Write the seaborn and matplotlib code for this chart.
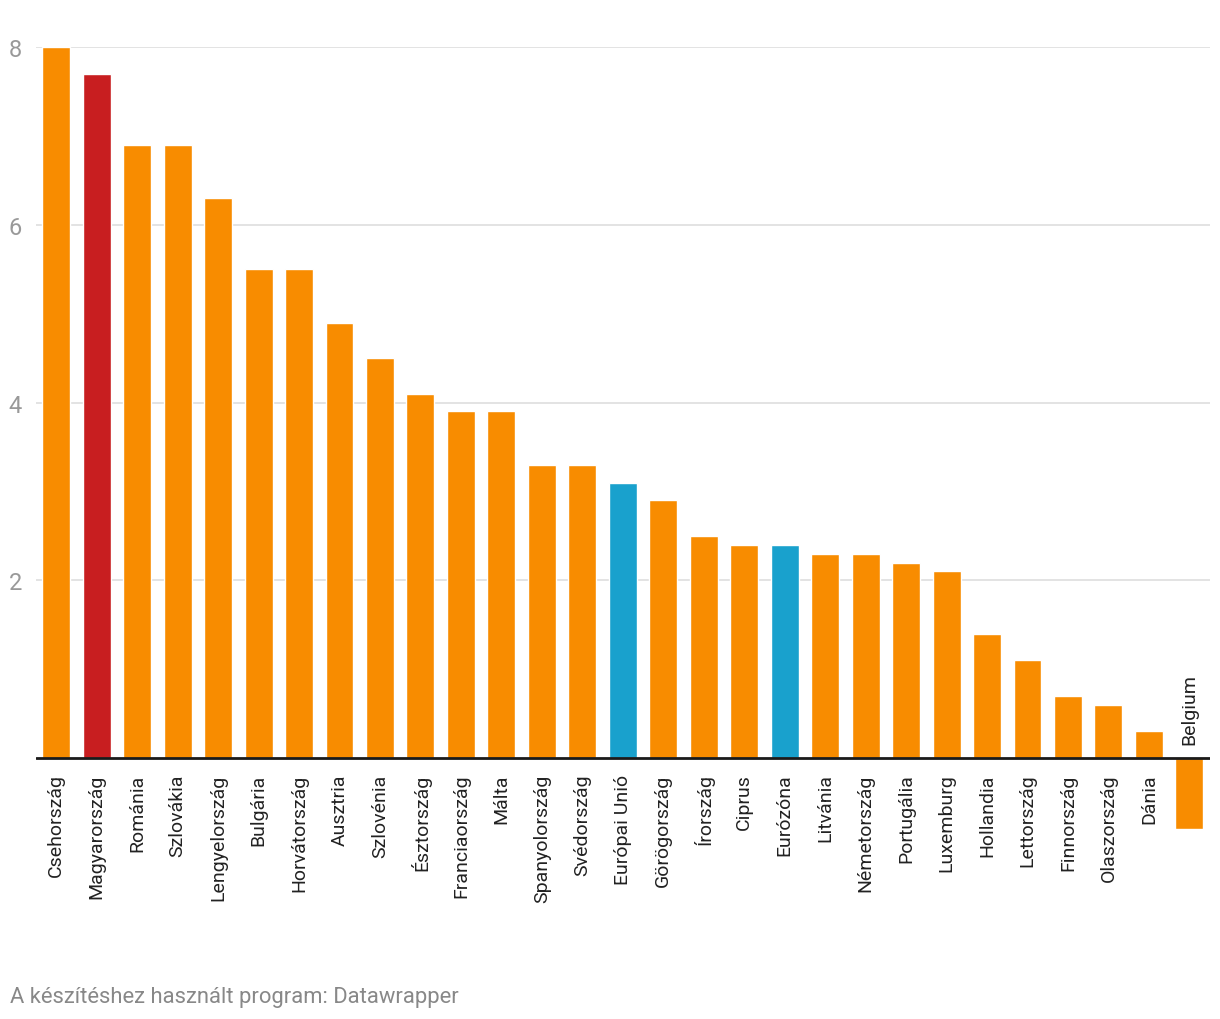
import numpy as np
import pandas as pd
import matplotlib
matplotlib.use("Agg")
import matplotlib.pyplot as plt
import seaborn as sns

orszagok = ['Csehország', 'Magyarország', 'Románia', 'Szlovákia', 'Lengyelország',
            'Bulgária', 'Horvátország', 'Ausztria', 'Szlovénia', 'Észtország',
            'Franciaország', 'Málta', 'Spanyolország', 'Svédország', 'Európai Unió',
            'Görögország', 'Írország', 'Ciprus', 'Eurózóna', 'Litvánia',
            'Németország', 'Portugália', 'Luxemburg', 'Hollandia', 'Lettország',
            'Finnország', 'Olaszország', 'Dánia', 'Belgium']
ertekek = [8.0, 7.7, 6.9, 6.9, 6.3, 5.5, 5.5, 4.9, 4.5, 4.1,
           3.9, 3.9, 3.3, 3.3, 3.1, 2.9, 2.5, 2.4, 2.4, 2.3,
           2.3, 2.2, 2.1, 1.4, 1.1, 0.7, 0.6, 0.3, -0.8]
csoport = ['egyeb'] * len(orszagok)
csoport[orszagok.index('Magyarország')] = 'hu'
csoport[orszagok.index('Európai Unió')] = 'atlag'
csoport[orszagok.index('Eurózóna')] = 'atlag'
y_ticks = [2, 4, 6, 8]

szinek = {'egyeb': '#F88C00', 'hu': '#C81E20', 'atlag': '#19A1CD'}

df = pd.DataFrame({'orszag': orszagok, 'ertek': ertekek, 'csoport': csoport})

sns.set_style("white")
plt.rcParams['font.family'] = ['Roboto', 'DejaVu Sans']

fig = plt.figure(figsize=(12.2, 10.2), dpi=100)
ax = fig.add_axes([0.0295, 0.186, 0.962, 0.767])

sns.barplot(data=df, x='orszag', y='ertek', hue='csoport', palette=szinek,
            dodge=False, width=0.69, saturation=1, legend=False, ax=ax, zorder=3)

ax.set_xlim(-0.5, len(orszagok) - 0.5)
ax.set_ylim(-0.8, 8)
ax.set_yticks(y_ticks)
ax.set_yticklabels([str(t) for t in y_ticks], color='#999999', fontsize=17)
ax.yaxis.grid(True, color='#e0e0e0', linewidth=1.3, zorder=0)
ax.axhline(0, color='#1a1a1a', linewidth=2, zorder=4)
for s in ax.spines.values():
    s.set_visible(False)
ax.tick_params(axis='y', length=0, pad=10)
ax.set_xticks([])
ax.set_xlabel('')
ax.set_ylabel('')

# a feliratok a nulla vonalhoz igazodnak (Belgium fölötte)
for i, (o, v) in enumerate(zip(orszagok, ertekek)):
    if v >= 0:
        ax.annotate(o, xy=(i, 0), xytext=(0, -11), textcoords='offset points',
                    rotation=90, ha='center', va='top', fontsize=14,
                    color='#222222', annotation_clip=False)
    else:
        ax.annotate(o, xy=(i, 0), xytext=(0, 10), textcoords='offset points',
                    rotation=90, ha='center', va='bottom', fontsize=14,
                    color='#222222', annotation_clip=False)

fig.text(0.008, 0.022, 'A készítéshez használt program: Datawrapper',
         fontsize=15.8, color='#888888', ha='left', va='center')

fig.savefig('out.png', dpi=100)
plt.close()
